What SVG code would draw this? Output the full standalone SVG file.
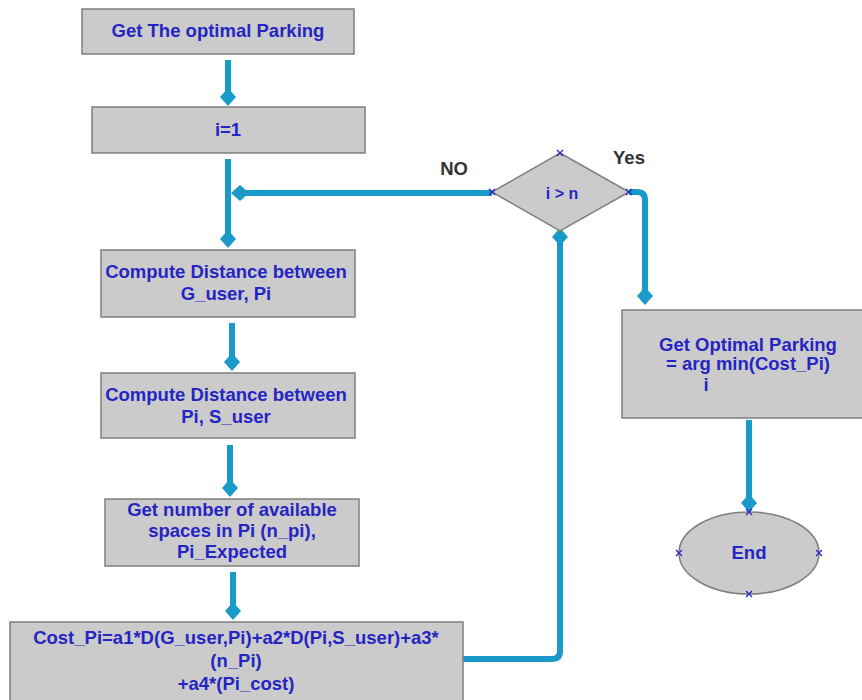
<svg xmlns="http://www.w3.org/2000/svg" width="862" height="700" viewBox="0 0 862 700">
<style>
.box{fill:#cbcbcb;stroke:#7f7f7f;stroke-width:1.5}
.t{font-family:"Liberation Sans",Arial,sans-serif;font-weight:bold;font-size:18.5px;fill:#2525c4;text-anchor:middle}
.lbl{font-family:"Liberation Sans",Arial,sans-serif;font-weight:bold;font-size:18.5px;fill:#333333;text-anchor:middle}
.c{fill:none;stroke:#1a9ac9;stroke-width:6;marker-end:url(#dia)}
.x{stroke:#2525c4;stroke-width:1.3;fill:none}
</style>
<defs>
<marker id="dia" viewBox="0 0 18 16" markerWidth="18" markerHeight="16" refX="9" refY="8" orient="auto" markerUnits="userSpaceOnUse">
<path d="M0,8 L9,0 L18,8 L9,16 Z" fill="#1a9ac9"/>
</marker>
</defs>
<rect width="862" height="700" fill="#ffffff"/>
<g id="connectors">
<path class="c" d="M228,60 V97"/>
<path class="c" d="M228,159 V239"/>
<path class="c" d="M492,193 H240"/>
<path class="c" d="M232,323 V362"/>
<path class="c" d="M230,445 V488"/>
<path class="c" d="M233,572 V611"/>
<path class="c" d="M463,659 H552 Q560,659 560,651 V237"/>
<path class="c" d="M629,192 H637 Q645,192 645,200 V296"/>
<path class="c" d="M749,420 V503"/>
</g>
<g id="start">
<rect class="box" x="82" y="9" width="272" height="45"/>
<text class="t" x="218" y="37">Get The optimal Parking</text>
</g>
<g id="init">
<rect class="box" x="92" y="107" width="273" height="46"/>
<text class="t" x="228" y="136">i=1</text>
</g>
<g id="dist1">
<rect class="box" x="101" y="250" width="254" height="67"/>
<text class="t" x="226" y="278">Compute Distance between</text>
<text class="t" x="226" y="300">G_user, Pi</text>
</g>
<g id="dist2">
<rect class="box" x="101" y="373" width="254" height="65"/>
<text class="t" x="226" y="401">Compute Distance between</text>
<text class="t" x="226" y="423">Pi, S_user</text>
</g>
<g id="spaces">
<rect class="box" x="105" y="499" width="254" height="67"/>
<text class="t" x="232" y="516">Get number of available</text>
<text class="t" x="232" y="537">spaces in Pi (n_pi),</text>
<text class="t" x="232" y="558">Pi_Expected</text>
</g>
<g id="cost">
<rect class="box" x="10" y="622" width="453" height="84"/>
<text class="t" x="236" y="644">Cost_Pi=a1*D(G_user,Pi)+a2*D(Pi,S_user)+a3*</text>
<text class="t" x="236" y="667">(n_Pi)</text>
<text class="t" x="236" y="690">+a4*(Pi_cost)</text>
</g>
<g id="decision">
<path class="box" d="M560,153 L629,192 L560,231 L492,192 Z"/>
<text class="t" x="562" y="199" style="font-size:16px">i &gt; n</text>
<path class="x" d="M557,150 l6,6 M563,150 l-6,6 M489,189 l6,6 M495,189 l-6,6 M626,189 l6,6 M632,189 l-6,6"/>
<text class="lbl" x="454" y="175">NO</text>
<text class="lbl" x="629" y="164">Yes</text>
</g>
<g id="optimal">
<rect class="box" x="622" y="310" width="245" height="108"/>
<text class="t" x="748" y="351">Get Optimal Parking</text>
<text class="t" x="748" y="370">= arg min(Cost_Pi)</text>
<text class="t" x="706" y="391">i</text>
</g>
<g id="end">
<ellipse class="box" cx="749" cy="553" rx="70" ry="41"/>
<text class="t" x="749" y="559">End</text>
<path class="x" d="M746,509 l6,6 M752,509 l-6,6 M746,591 l6,6 M752,591 l-6,6 M676,550 l6,6 M682,550 l-6,6 M816,550 l6,6 M822,550 l-6,6"/>
</g>
</svg>
